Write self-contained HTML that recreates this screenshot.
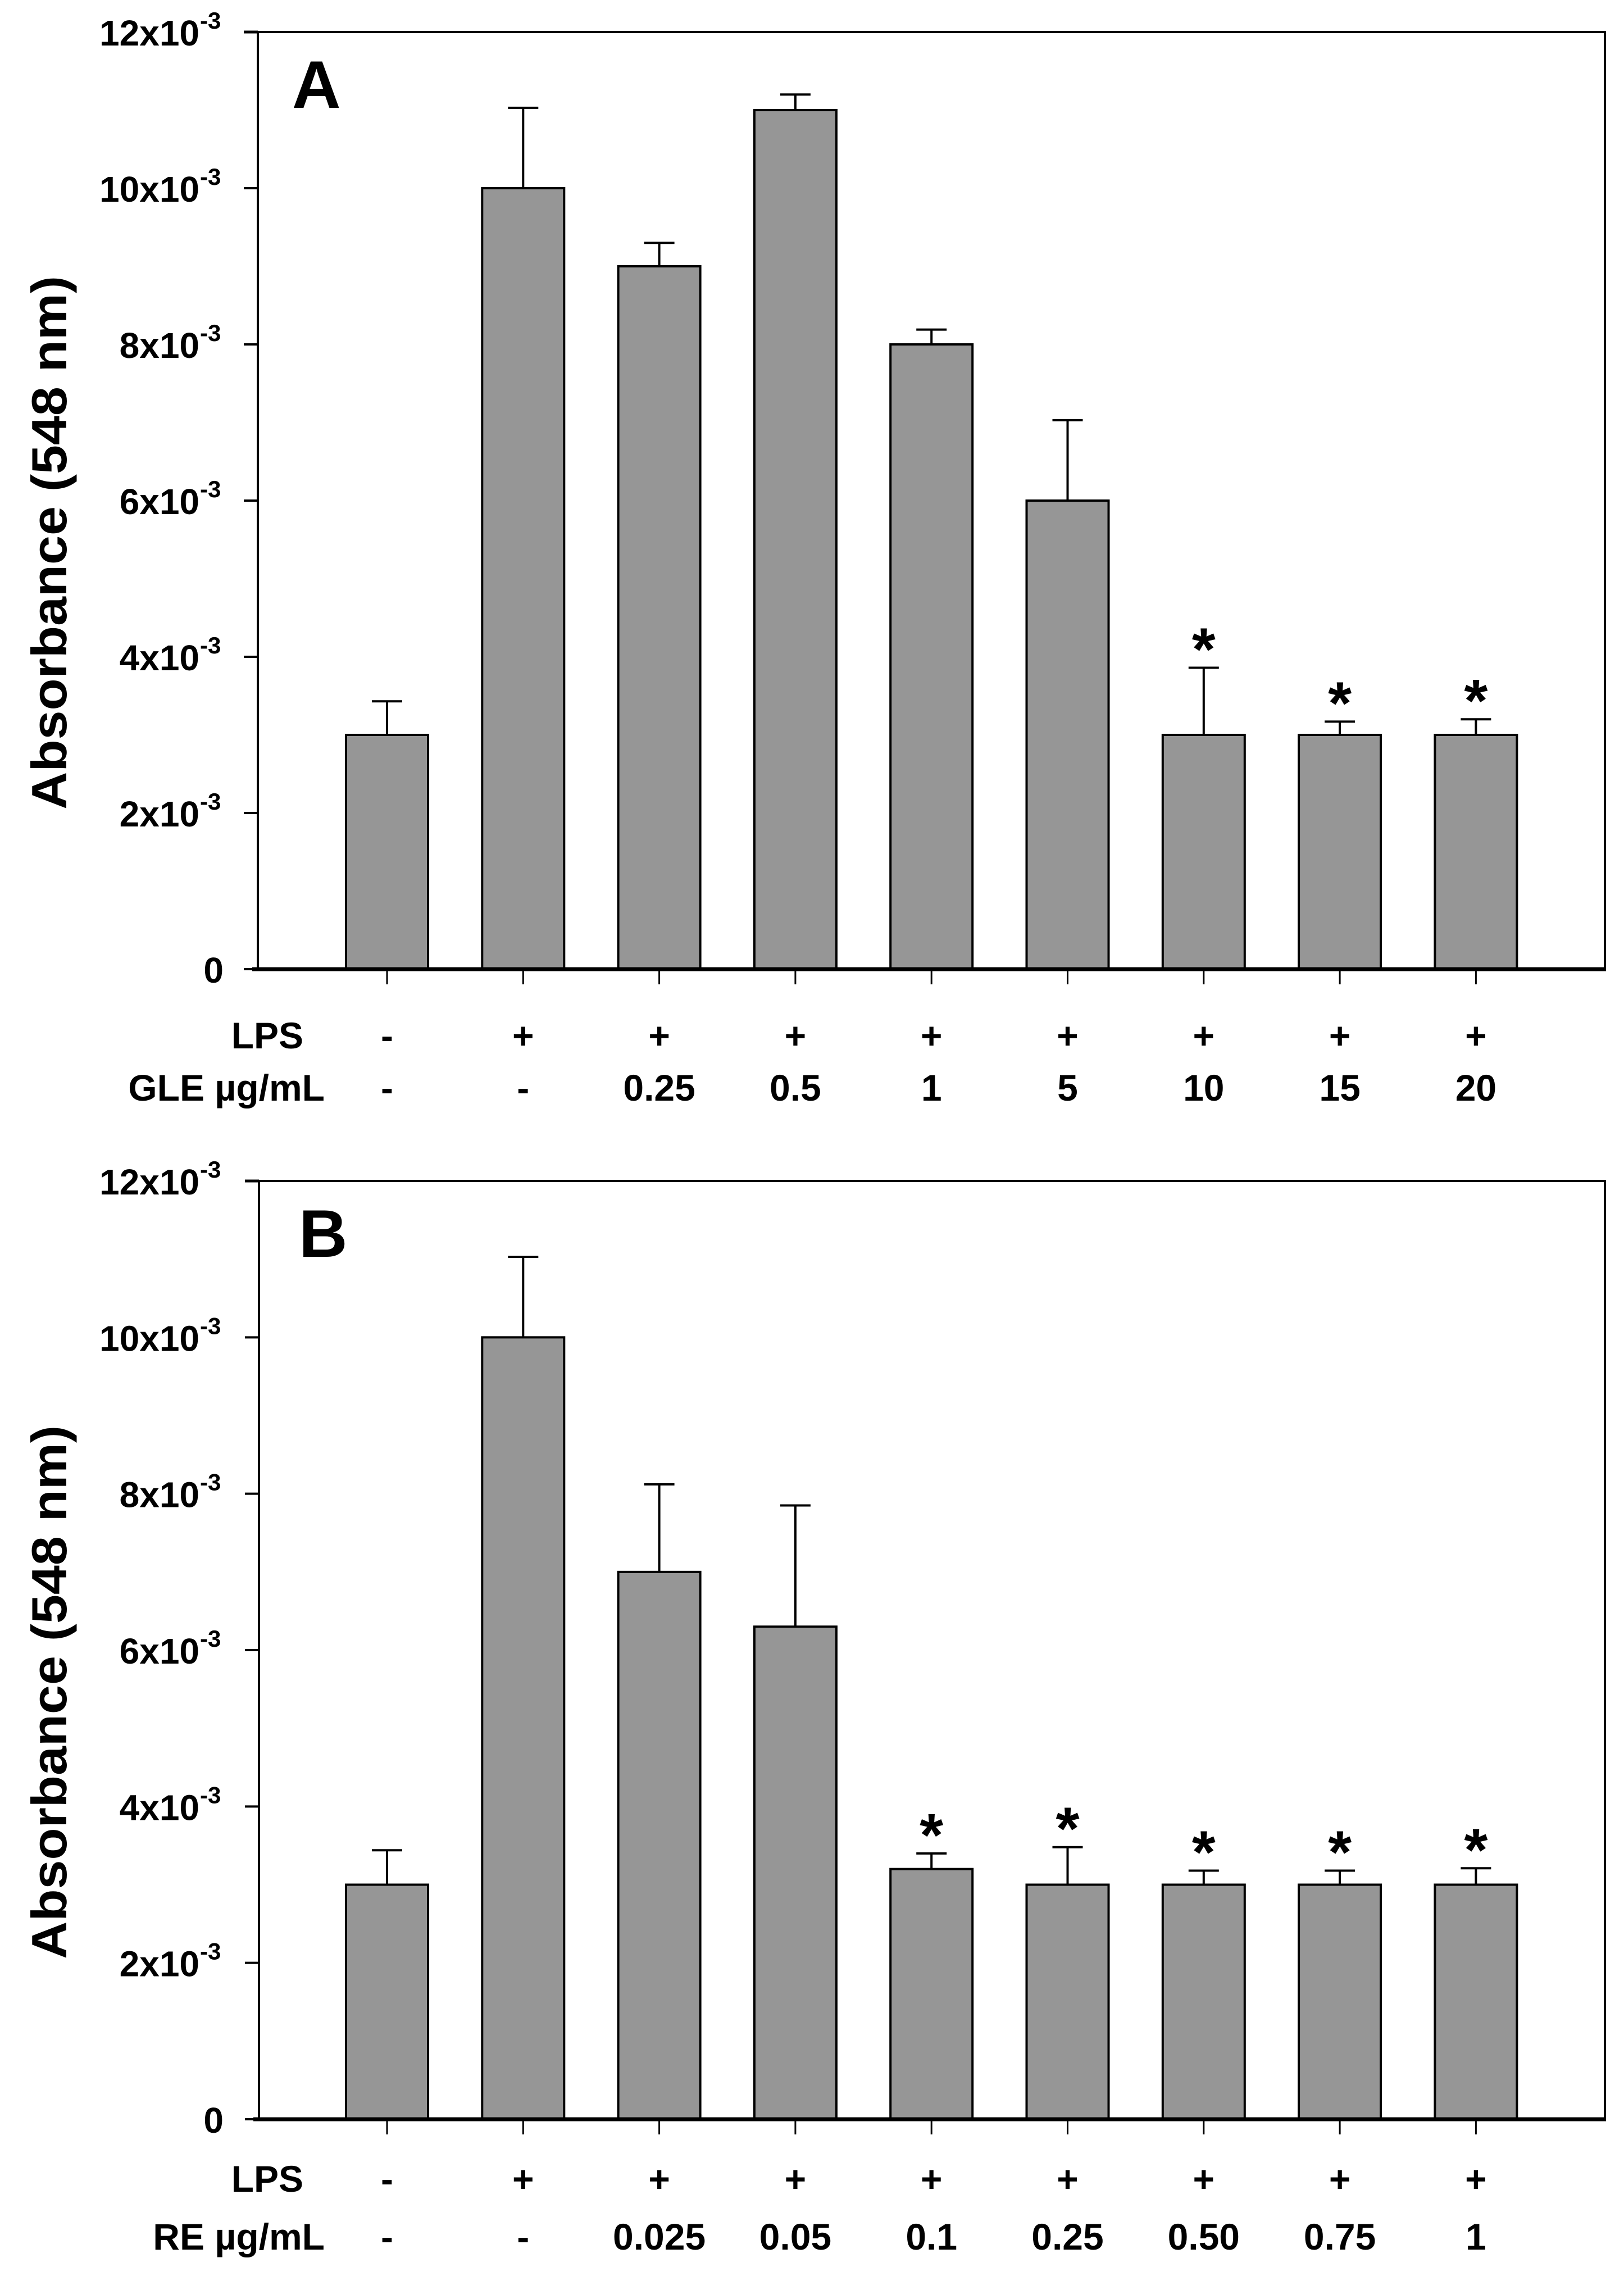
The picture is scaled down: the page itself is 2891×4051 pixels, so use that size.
<!DOCTYPE html>
<html><head><meta charset="utf-8"><style>
html,body{margin:0;padding:0;background:#fff;}
svg{display:block;}
text{font-family:"Liberation Sans",Arial,sans-serif;font-weight:bold;fill:#000;}
</style></head><body>
<svg id="chart" width="2891" height="4051" viewBox="0 0 2891 4051" xmlns="http://www.w3.org/2000/svg"></svg>
<script>
const NS="http://www.w3.org/2000/svg";
const yTicks=[0,2,4,6,8,10,12];
const yTickLabels=["0","2x10","4x10","6x10","8x10","10x10","12x10"];
const lpsLabels=["-","+","+","+","+","+","+","+","+"];
const gleLabels=["-","-","0.25","0.5","1","5","10","15","20"];
const reLabels=["-","-","0.025","0.05","0.1","0.25","0.50","0.75","1"];
const valuesA=[3,10,9,11,8,6,3,3,3];
const errTopA=[3.43,11.03,9.3,11.2,8.19,7.03,3.86,3.17,3.2];
const sigA=[false,false,false,false,false,false,true,true,true];
const valuesB=[3,10,7,6.3,3.2,3,3,3,3];
const errTopB=[3.44,11.03,8.12,7.85,3.4,3.48,3.18,3.18,3.21];
const sigB=[false,false,false,false,true,true,true,true,true];

const svg=document.getElementById('chart');
function el(tag,attrs,parent){const e=document.createElementNS(NS,tag);for(const k in attrs)e.setAttribute(k,attrs[k]);(parent||svg).appendChild(e);return e;}

function panel(p){
  const g=el('g',{});
  
  
  const L=p.left,R=2857,T=p.top,Z=p.zero;
  const yS=v=>Z-(v/12)*(Z-T);
  const xS=i=>689+i*242.3;
  const bw=146;
  p.values.forEach((v,i)=>{
    const cx=xS(i);
    const r=el('rect',{x:cx-bw/2,y:yS(v),width:bw,height:Z-yS(v),fill:'#969696',stroke:'#000','stroke-width':4},g);
    
    
    const et=yS(p.err[i]);
    const eb=el('path',{d:`M${cx},${yS(v)} V${et} M${cx-27},${et} H${cx+27}`,stroke:'#000','stroke-width':4,fill:'none'},g);
    
    
    if(p.sig[i]){
      const s=el('text',{x:cx,y:et+4,'text-anchor':'middle','font-size':108},g);
      s.textContent='*';
      
      
    }
    const xt=el('line',{x1:cx,y1:Z,x2:cx,y2:Z+27,stroke:'#000','stroke-width':3},g);
    
    
    const t1=el('text',{x:cx,y:p.row1+24,'text-anchor':'middle','font-size':66},g);
    t1.textContent=lpsLabels[i];
    
    
    const t2=el('text',{x:cx,y:p.row2+24,'text-anchor':'middle','font-size':66},g);
    t2.textContent=p.doses[i];
    
    
  });
  const fr=el('path',{d:`M${L},${Z} V${T} H${R} V${Z}`,stroke:'#000','stroke-width':4,fill:'none'},g);
  
  
  const xa=el('line',{x1:L-10,y1:Z,x2:R+2,y2:Z,stroke:'#000','stroke-width':7},g);
  
  
  yTicks.forEach((v,k)=>{
    const y=yS(v);
    const tk=el('line',{x1:L-25,y1:y,x2:L,y2:y,stroke:'#000','stroke-width':k==6?5:4},g);
    
    
    const t=el('text',{x:v===0?398:355,y:y+24,'text-anchor':'end','font-size':64},g);
    t.textContent=yTickLabels[k];
    
    
    if(v!==0){
      const s=el('text',{x:356,y:y-6,'text-anchor':'start','font-size':42},g);
      s.textContent='-3';
      
      
    }
  });
  const mid=(T+Z)/2+75;
  const yt=el('text',{x:0,y:0,'text-anchor':'middle','font-size':88,textLength:950,lengthAdjust:'spacingAndGlyphs',transform:`translate(118,${mid}) rotate(-90)`},g);
  yt.textContent='Absorbance (548 nm)';
  
  
  const pl=el('text',{x:p.letterX,y:T+135,'font-size':120},g);
  pl.textContent=p.letter;
  
  
  const r1=el('text',{x:540,y:p.row1+24,'text-anchor':'end','font-size':66},g);
  r1.textContent='LPS';
  
  
  const r2=el('text',{x:578,y:p.row2+24,'text-anchor':'end','font-size':66},g);
  r2.textContent=p.doseTitle;
  
  
}
panel({name:'panel-a',left:459,top:57,zero:1725,values:valuesA,err:errTopA,sig:sigA,doses:gleLabels,doseTitle:'GLE \u00b5g/mL',letter:'A',letterX:520,row1:1842,row2:1935});
panel({name:'panel-b',left:461,top:2102,zero:3772,values:valuesB,err:errTopB,sig:sigB,doses:reLabels,doseTitle:'RE \u00b5g/mL',letter:'B',letterX:532,row1:3877,row2:3980});
</script>
</body></html>
